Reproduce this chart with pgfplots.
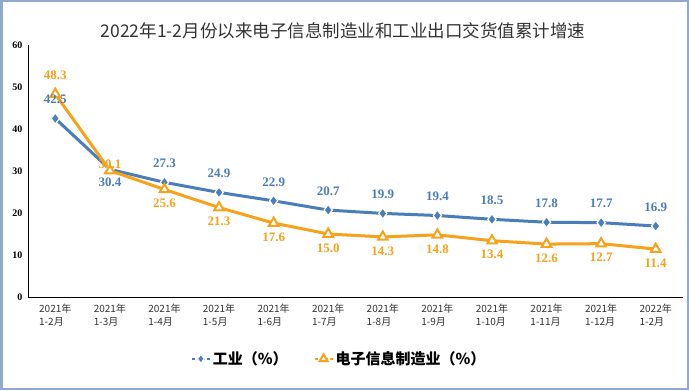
\documentclass[border=0pt]{standalone}
\usepackage{pgfplots}
\pgfplotsset{compat=1.18}
\usepackage{fontspec}
\setmainfont{Liberation Serif}
\newfontfamily\cjk{Noto Sans CJK SC}
\definecolor{cblue}{HTML}{4A7EBB}
\definecolor{corange}{HTML}{F7A21B}
\definecolor{frame}{HTML}{8FAACB}
\begin{document}
\begin{tikzpicture}[x=1bp,y=1bp]
\path[use as bounding box] (0,0) rectangle (689,390);
\fill[white] (0,0) rectangle (689,390);
\draw[frame,line width=2.5bp] (1.25,1.25) rectangle (687.75,388.75);
\node[font=\cjk\fontsize{17.5bp}{19bp}\selectfont,text=black!80] at (343,359) {2022年1-2月份以来电子信息制造业和工业出口交货值累计增速};
\begin{axis}[
  at={(28bp,93bp)}, anchor=south west,
  scale only axis, width=655bp, height=252bp,
  xmin=-0.5, xmax=11.5, ymin=0, ymax=60,
  axis lines=left, axis line style={black, line width=1bp, -},
  xtick={0,...,11}, major tick length=0pt,
  xticklabels={{2021年\\1-2月},{2021年\\1-3月},{2021年\\1-4月},{2021年\\1-5月},{2021年\\1-6月},{2021年\\1-7月},{2021年\\1-8月},{2021年\\1-9月},{2021年\\1-10月},{2021年\\1-11月},{2021年\\1-12月},{2022年\\1-2月}},
  xticklabel style={font=\cjk\fontsize{10bp}{13bp}\selectfont, align=left, text=black!80, yshift=-4bp},
  ytick={0,10,...,60},
  yticklabel style={font=\bfseries\fontsize{10bp}{11bp}\selectfont, xshift=-2bp},
  /pgf/number format/assume math mode=true,
  clip=false,
  legend style={at={(0.475,-0.2)}, anchor=north, draw=none, fill=none,
    font=\cjk\bfseries\fontsize{15bp}{17bp}\selectfont, legend columns=2,
    /tikz/every even column/.append style={column sep=24bp}},
  legend image code/.code={\draw[#1, line width=2bp, dash pattern=on 3bp off 2bp] (0bp,0bp) -- (18bp,0bp); \draw[#1, only marks, mark size=4.5bp] plot coordinates {(9bp,0bp)};},
]
\addplot[cblue, line width=3bp, mark=diamond*, mark size=5.5bp, mark options={fill=cblue, draw=white, line width=1.2bp}]
coordinates {(0,42.5)(1,30.4)(2,27.3)(3,24.9)(4,22.9)(5,20.7)(6,19.9)(7,19.4)(8,18.5)(9,17.8)(10,17.7)(11,16.9)};
\addlegendentry{工业（\%）}
\addplot[corange, line width=3bp, mark=triangle*, mark size=5.5bp, mark options={fill=white, draw=corange, line width=2bp}]
coordinates {(0,48.3)(1,30.1)(2,25.6)(3,21.3)(4,17.6)(5,15.0)(6,14.3)(7,14.8)(8,13.4)(9,12.6)(10,12.7)(11,11.4)};
\addlegendentry{电子信息制造业（\%）}
% labels
\addplot[draw=none, forget plot, nodes near coords, point meta=explicit symbolic,
  nodes near coords style={font=\bfseries\fontsize{13bp}{15bp}\selectfont, text=cblue, anchor=center, yshift=19bp}]
coordinates {(0,42.5)[42.5](2,27.3)[27.3](3,24.9)[24.9](4,22.9)[22.9](5,20.7)[20.7](6,19.9)[19.9](7,19.4)[19.4](8,18.5)[18.5](9,17.8)[17.8](10,17.7)[17.7](11,16.9)[16.9]};
\addplot[draw=none, forget plot, nodes near coords, point meta=explicit symbolic,
  nodes near coords style={font=\bfseries\fontsize{13bp}{15bp}\selectfont, text=cblue, anchor=center, yshift=-13bp}]
coordinates {(1,30.4)[30.4]};
\addplot[draw=none, forget plot, nodes near coords, point meta=explicit symbolic,
  nodes near coords style={font=\bfseries\fontsize{13bp}{15bp}\selectfont, text=corange, anchor=center, yshift=19bp}]
coordinates {(0,48.3)[48.3]};
\addplot[draw=none, forget plot, nodes near coords, point meta=explicit symbolic,
  nodes near coords style={font=\bfseries\fontsize{13bp}{15bp}\selectfont, text=corange, anchor=center, yshift=6bp}]
coordinates {(1,30.1)[30.1]};
\addplot[draw=none, forget plot, nodes near coords, point meta=explicit symbolic,
  nodes near coords style={font=\bfseries\fontsize{13bp}{15bp}\selectfont, text=corange, anchor=center, yshift=-14bp}]
coordinates {(2,25.6)[25.6](3,21.3)[21.3](4,17.6)[17.6](5,15.0)[15.0](6,14.3)[14.3](7,14.8)[14.8](8,13.4)[13.4](9,12.6)[12.6](10,12.7)[12.7](11,11.4)[11.4]};
\end{axis}
\end{tikzpicture}
\end{document}
